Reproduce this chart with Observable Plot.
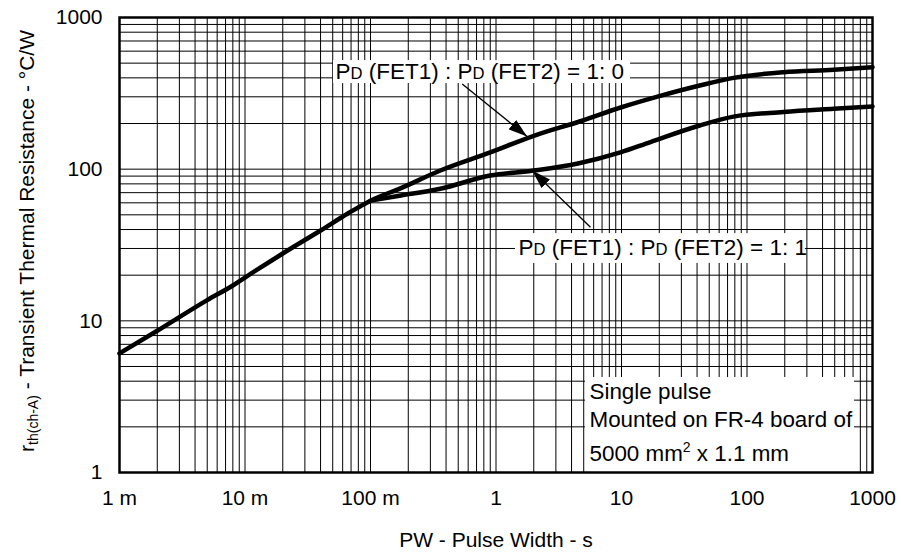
<!DOCTYPE html>
<html>
<head>
<meta charset="utf-8">
<script src="https://cdn.jsdelivr.net/npm/d3@7"></script>
<script src="https://cdn.jsdelivr.net/npm/@observablehq/plot@0.6"></script>
<style>
  body { margin: 0; background: #fff; }
  svg { display: block; }
</style>
</head>
<body>
<div id="chart"></div>
<script>
// ---- tick labels ----
const xTicks = [0.001, 0.01, 0.1, 1, 10, 100, 1000];
const xTickLabels = ["1 m", "10 m", "100 m", "1", "10", "100", "1000"];
const yTicks = [1, 10, 100, 1000];
const yTickLabels = ["1", "10", "100", "1000"];
const gridMultipliers = [1, 2, 3, 4, 5, 6, 7, 8, 9];
const xDecades = [0.001, 0.01, 0.1, 1, 10, 100];
const yDecades = [1, 10, 100];

const xTitle = "PW - Pulse Width - s";
const yTitle = "rth(ch-A) - Transient Thermal Resistance - °C/W";

// ---- series: PD(FET1):PD(FET2) = 1:0 ----
const pw10 = [0.001, 0.002, 0.005, 0.008, 0.01, 0.02, 0.04, 0.066, 0.1, 0.175, 0.36, 0.9, 2, 4.7, 10, 20, 42, 78, 195, 490, 1000];
const r10  = [6.1, 8.6, 13.7, 17.1, 19.3, 27.8, 39.4, 51, 62, 75, 98, 129, 166, 207, 256, 303, 356, 400, 436, 452, 470];

// ---- series: PD(FET1):PD(FET2) = 1:1 ----
const pw11 = [0.1, 0.175, 0.36, 0.9, 2, 4.5, 9.8, 17, 42, 78, 195, 490, 1000];
const r11  = [62, 67, 74.3, 90.8, 98, 109, 129, 151, 194, 222, 238, 250, 259];

// ---- curve labels and arrows ----
const labelTexts = ["PD (FET1) : PD (FET2) = 1: 0", "PD (FET1) : PD (FET2) = 1: 1"];
const labelX = [0.0526, 1.51];
const labelY = [437, 30.4];
const labelBoxX1 = [0.0507, 1.43];
const labelBoxX2 = [11.8, 292];
const labelBoxY1 = [367, 23.9];
const labelBoxY2 = [520, 37.6];
const arrowX1 = [0.538, 5.66];
const arrowY1 = [365, 41.4];
const arrowX2 = [1.77, 1.94];
const arrowY2 = [164, 98];

// ---- note box ----
const noteLines = ["Single pulse", "Mounted on FR-4 board of", "5000 mm2 x 1.1 mm"];
const noteX = 5.56;
const noteY = [3.42, 2.22, 1.334];
const noteBoxX = [5.16, 719];
const noteBoxY = [1, 4.23];

// build tables
const xGrid = xDecades.flatMap(d => gridMultipliers.map(m => m * d)).concat([1000]);
const yGrid = yDecades.flatMap(d => gridMultipliers.map(m => m * d)).concat([1000]);
const lineData = [
  ...pw10.map((x, i) => ({x, y: r10[i], s: "1:0"})),
  ...pw11.map((x, i) => ({x, y: r11[i], s: "1:1"}))
];
const labels = labelTexts.map((t, i) => ({t, x: labelX[i], y: labelY[i],
  x1: labelBoxX1[i], x2: labelBoxX2[i], y1: labelBoxY1[i], y2: labelBoxY2[i]}));
const arrows = arrowX1.map((x1, i) => ({x1, y1: arrowY1[i], x2: arrowX2[i], y2: arrowY2[i]}));
const notes = noteLines.map((t, i) => ({t, x: noteX, y: noteY[i]}));
const noteBox = [{x1: noteBoxX[0], x2: noteBoxX[1], y1: noteBoxY[0], y2: noteBoxY[1]}];

const xLabelMap = new Map(xTicks.map((d, i) => [d, xTickLabels[i]]));
const yLabelMap = new Map(yTicks.map((d, i) => [d, yTickLabels[i]]));

const chart = Plot.plot({
  width: 901,
  height: 553,
  marginLeft: 119,
  marginRight: 29,
  marginTop: 17,
  marginBottom: 81,
  style: {fontFamily: "'Liberation Sans', Arial, sans-serif", fontSize: "21px", color: "#000", background: "#fff", overflow: "visible"},
  x: {type: "log", domain: [0.001, 1000], axis: null},
  y: {type: "log", domain: [1, 1000], axis: null},
  marks: [
    Plot.ruleX(xGrid, {stroke: "#000", strokeWidth: 1}),
    Plot.ruleY(yGrid, {stroke: "#000", strokeWidth: 1}),
    Plot.rect(labels, {x1: "x1", x2: "x2", y1: "y1", y2: "y2", fill: "#fff"}),
    Plot.rect(noteBox, {x1: "x1", x2: "x2", y1: "y1", y2: "y2", fill: "#fff"}),
    Plot.line(lineData, {x: "x", y: "y", z: "s", stroke: "#000", strokeWidth: 4.5, curve: "monotone-x"}),
    Plot.link(arrows, {x1: "x1", y1: "y1", x2: "x2", y2: "y2", stroke: "#000", strokeWidth: 1.3}),
    Plot.text(labels, {x: "x", y: "y", text: "t", textAnchor: "start", lineAnchor: "middle", fontSize: 22.5}),
    Plot.text(notes, {x: "x", y: "y", text: "t", textAnchor: "start", lineAnchor: "middle", fontSize: 22.4}),
    Plot.frame({stroke: "#000", strokeWidth: 2.5}),
    Plot.axisX(xTicks, {ticks: xTicks, tickSize: 0, tickPadding: 18, tickFormat: d => xLabelMap.get(d)}),
    Plot.axisY(yTicks, {ticks: yTicks, tickSize: 0, tickPadding: 17, tickFormat: d => yLabelMap.get(d)}),
    Plot.text([xTitle], {text: d => d, frameAnchor: "bottom", textAnchor: "middle", lineAnchor: "middle", dy: 68, fontSize: 21}),
    Plot.text([yTitle], {text: d => d, frameAnchor: "left", textAnchor: "middle", lineAnchor: "middle", rotate: -90, dx: -92, dy: -4, fontSize: 21})
  ]
});
document.getElementById("chart").appendChild(chart);

// ---- post-process: filled arrowheads, small "D", subscript, superscript ----
const svg = d3.select(chart);
const marker = svg.append("defs").append("marker")
  .attr("id", "arrowhead")
  .attr("viewBox", "0 -6 19 12")
  .attr("refX", 19).attr("refY", 0)
  .attr("markerUnits", "userSpaceOnUse")
  .attr("markerWidth", 19).attr("markerHeight", 12)
  .attr("orient", "auto");
marker.append("path").attr("d", "M0,-6L19,0L0,6Z").attr("fill", "#000");
svg.selectAll('g[aria-label="link"] path').attr("marker-end", "url(#arrowhead)");

svg.selectAll("text").each(function() {
  const t = this.textContent;
  const sel = d3.select(this);
  if (t.includes("(FET1)")) {
    sel.text("");
    t.split("PD").forEach((p, i) => {
      if (i > 0) {
        sel.append("tspan").text("P");
        sel.append("tspan").attr("font-size", "0.74em").text("D");
      }
      if (p) sel.append("tspan").text(p);
    });
  } else if (t.startsWith("rth(ch-A)")) {
    sel.text("");
    sel.append("tspan").text("r");
    sel.append("tspan").attr("font-size", "14px").attr("dy", 4).text("th(ch-A)");
    sel.append("tspan").attr("dy", -4).text(t.slice(9));
  } else if (t.startsWith("5000 mm2")) {
    sel.text("");
    sel.append("tspan").text("5000 mm");
    sel.append("tspan").attr("font-size", "14px").attr("dy", -9).text("2");
    sel.append("tspan").attr("dy", 9).text(" x 1.1 mm");
  }
});
</script>
</body>
</html>
